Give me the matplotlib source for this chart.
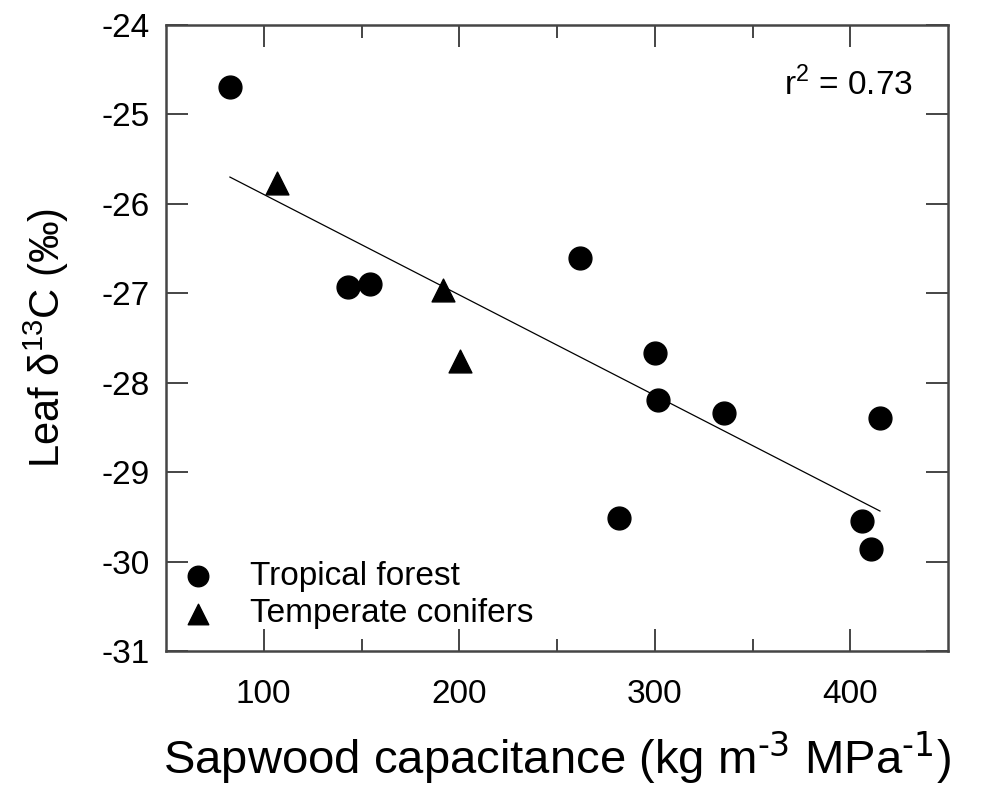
import numpy as np
import matplotlib.pyplot as plt

plt.rcParams['font.family'] = ['Liberation Sans', 'DejaVu Sans']
plt.rcParams['axes.unicode_minus'] = False

# tropical forest (circles)
trop_x = [82.7, 143.1, 154.3, 261.8, 300.1, 301.7, 335.4, 281.7, 415.2, 406.0, 410.6]
trop_y = [-24.69, -26.93, -26.90, -26.61, -27.67, -28.19, -28.34, -29.51, -28.40, -29.55, -29.86]

# temperate conifers (triangles)
conif_x = [106.8, 191.7, 200.4]
conif_y = [-25.77, -26.96, -27.76]

xticks = [100, 200, 300, 400]
yticks = [-31, -30, -29, -28, -27, -26, -25, -24]

all_x = np.array(trop_x + conif_x)
all_y = np.array(trop_y + conif_y)
slope, icpt = np.polyfit(all_x, all_y, 1)

frame = '#454545'

fig = plt.figure(figsize=(9.83, 7.91), dpi=100)
ax = fig.add_axes([166 / 983, 1 - 651 / 791, 782 / 983, 626 / 791])

ax.scatter(trop_x, trop_y, s=270, marker='o', color='black', label='Tropical forest', zorder=3)
ax.scatter(conif_x, conif_y, s=270, marker='^', color='black', label='Temperate conifers', zorder=3)

lx = np.array([all_x.min(), all_x.max()])
ax.plot(lx, slope * lx + icpt, color='black', lw=0.9)

ax.set_xlim(50, 450)
ax.set_ylim(-31, -24)
ax.set_xticks(xticks)
ax.set_xticks([150, 250, 350], minor=True)
ax.set_yticks(yticks)
ax.tick_params(which='major', direction='in', length=16, width=1.4, color=frame,
               labelsize=24, top=True, right=True, pad=12)
ax.tick_params(axis='x', which='major', pad=20)
ax.tick_params(which='minor', direction='in', length=9, width=1.4, color=frame, top=True)
for s in ax.spines.values():
    s.set_linewidth(1.8)
    s.set_color(frame)

ax.set_xlabel(r'Sapwood capacitance (kg m$^{\text{-3}}$ MPa$^{\text{-1}}$)',
              fontsize=34, labelpad=14)
ax.set_ylabel(r'Leaf $\mathregular{\delta^{13}}$C (‰)', fontsize=30, labelpad=22)

ax.text(0.955, 0.905, r'r$^{\mathregular{2}}$ = 0.73', transform=ax.transAxes,
        ha='right', va='center', fontsize=24)

ax.legend(loc='lower left', bbox_to_anchor=(-0.012, 0.008), frameon=False, fontsize=24,
          handletextpad=0.8, borderaxespad=0.1, borderpad=0.4, labelspacing=0.2,
          markerscale=0.9, handlelength=1.5)

fig.savefig('out.png', dpi=100)
